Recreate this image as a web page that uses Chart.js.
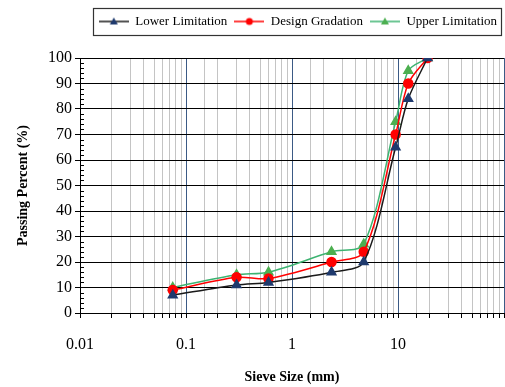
<!DOCTYPE html>
<html>
<head>
<meta charset="utf-8">
<script src="https://cdn.jsdelivr.net/npm/chart.js@4/dist/chart.umd.min.js"></script>
<style>
  html, body { margin: 0; padding: 0; background: #fff; }
  #wrap { width: 505px; height: 387px; }
</style>
</head>
<body>
<div id="wrap"><canvas id="gradChart"></canvas></div>
<script>
// Siebgrößen (mm) und Durchgangswerte (%)
const sieveSizes = [0.075, 0.3, 0.6, 2.36, 4.75, 9.5, 12.5, 19];
const lowerLimit = [7, 11, 12, 16, 20, 65, 84, 100];
const designGrad = [9, 14, 13.5, 20, 24, 70, 90, 100];
const upperLimit = [10, 15, 16, 24, 27, 75, 95, 100];

const seriesNames = ['Lower Limitation', 'Design Gradation', 'Upper Limitation'];
const xTickLabels = ['0.01', '0.1', '1', '10'];
const yTicks = [0, 10, 20, 30, 40, 50, 60, 70, 80, 90, 100];

const serif = "'Liberation Serif', 'DejaVu Serif', serif";

function toPoints(values) {
    return sieveSizes.map((s, i) => ({ x: s, y: values[i] }));
}

function isDecade(v) {
    const l = Math.log10(v);
    return Math.abs(l - Math.round(l)) < 1e-9;
}

// kleines Bild für die Legende: Linie mit Marker in der Mitte
function legendIcon(lineColor, fillColor, shape) {
    const c = document.createElement('canvas');
    c.width = 30; c.height = 12;
    const g = c.getContext('2d');
    g.strokeStyle = lineColor;
    g.lineWidth = 1.5;
    g.beginPath(); g.moveTo(0, 6); g.lineTo(30, 6); g.stroke();
    g.fillStyle = fillColor;
    g.beginPath();
    if (shape === 'circle') {
        g.arc(15, 6, 3.5, 0, Math.PI * 2);
    } else {
        g.moveTo(15, 2); g.lineTo(19, 9); g.lineTo(11, 9); g.closePath();
    }
    g.fill();
    return c;
}

const icons = [
    legendIcon('#1a1a1a', '#1F3A6E', 'triangle'),
    legendIcon('#ff0000', '#ff0000', 'circle'),
    legendIcon('#3cb371', '#4caf50', 'triangle')
];

const extras = {
    id: 'extras',
    afterInit(chart) {
        // Legende etwas höher machen, damit die Zeichenfläche bei y=57 beginnt
        const lg = chart.legend;
        const origFit = lg.fit;
        lg.fit = function () {
            origFit.call(this);
            this.height += 20;
        };
    },
    afterDraw(chart) {
        const ctx = chart.ctx;
        const y = chart.scales.y;
        // kleine Zwischenstriche an der y-Achse
        ctx.save();
        ctx.strokeStyle = '#000';
        ctx.lineWidth = 1;
        for (let v = 2; v < 100; v += 2) {
            if (v % 10 === 0) continue;
            const py = Math.round(y.getPixelForValue(v)) + 0.5;
            ctx.beginPath();
            ctx.moveTo(y.right, py);
            ctx.lineTo(y.right + 4, py);
            ctx.stroke();
        }
        // Rahmen um die Legende
        const hb = chart.legend.legendHitBoxes;
        if (hb && hb.length) {
            const left = Math.min(...hb.map(h => h.left)) - 6;
            const right = Math.max(...hb.map(h => h.left + h.width)) + 4;
            const top = hb[0].top - 7;
            const bottom = hb[0].top + hb[0].height + 7;
            ctx.strokeStyle = '#333';
            ctx.lineWidth = 1.2;
            ctx.strokeRect(Math.round(left) + 0.5, Math.round(top) + 0.5, Math.round(right - left), Math.round(bottom - top));
        }
        ctx.restore();
    }
};

new Chart(document.getElementById('gradChart'), {
    type: 'line',
    data: {
        datasets: [
            {
                label: seriesNames[0],
                data: toPoints(lowerLimit),
                borderColor: '#1a1a1a',
                borderWidth: 1.5,
                pointStyle: 'triangle',
                pointRadius: 5,
                pointBackgroundColor: '#1F3A6E',
                pointBorderColor: '#1F3A6E',
                tension: 0.3
            },
            {
                label: seriesNames[1],
                data: toPoints(designGrad),
                borderColor: '#ff0000',
                borderWidth: 1.5,
                pointStyle: 'circle',
                pointRadius: 4.5,
                pointBackgroundColor: '#ff0000',
                pointBorderColor: '#ff0000',
                tension: 0.3
            },
            {
                label: seriesNames[2],
                data: toPoints(upperLimit),
                borderColor: '#3cb371',
                borderWidth: 1.5,
                pointStyle: 'triangle',
                pointRadius: 5,
                pointBackgroundColor: '#4caf50',
                pointBorderColor: '#4caf50',
                tension: 0.3
            }
        ]
    },
    options: {
        responsive: true,
        maintainAspectRatio: false,
        animation: false,
        layout: { autoPadding: false, padding: { left: 0, right: 1, top: 8, bottom: 0 } },
        plugins: {
            tooltip: { enabled: false },
            legend: {
                position: 'top',
                align: 'end',
                labels: {
                    usePointStyle: true,
                    pointStyleWidth: 30,
                    padding: 7,
                    color: '#000',
                    font: { family: serif, size: 13 },
                    generateLabels(chart) {
                        const items = Chart.defaults.plugins.legend.labels.generateLabels(chart);
                        items.forEach((it, i) => { it.pointStyle = icons[i]; });
                        return items;
                    }
                }
            }
        },
        scales: {
            x: {
                type: 'logarithmic',
                min: 0.01,
                max: 100,
                afterFit(scale) {
                    scale.height = 74;
                    scale.paddingLeft = 0;
                    scale.paddingRight = 0;
                },
                border: { color: '#000', width: 1 },
                grid: {
                    color: ctx => (ctx.tick && isDecade(ctx.tick.value)) ? '#3b5a85' : '#c4c4c4',
                    tickColor: '#000',
                    tickLength: 5
                },
                ticks: {
                    autoSkip: false,
                    maxRotation: 0,
                    padding: 17,
                    color: '#000',
                    font: { family: serif, size: 16 },
                    callback(value) {
                        if (!isDecade(value)) return '';
                        const idx = Math.round(Math.log10(value)) + 2;
                        return xTickLabels[idx] !== undefined ? xTickLabels[idx] : '';
                    }
                },
                title: {
                    display: true,
                    text: 'Sieve Size (mm)',
                    color: '#000',
                    font: { family: serif, size: 14, weight: 'bold' },
                    padding: { top: 0, bottom: 1 }
                }
            },
            y: {
                min: 0,
                max: 100,
                afterFit(scale) { scale.width = 80; },
                afterBuildTicks(scale) { scale.ticks = yTicks.map(v => ({ value: v })); },
                border: { color: '#000', width: 1 },
                grid: { color: '#000', lineWidth: 1, tickLength: 5 },
                ticks: {
                    padding: 3,
                    color: '#000',
                    font: { family: serif, size: 16 }
                },
                title: {
                    display: true,
                    text: 'Passing Percent (%)',
                    color: '#000',
                    font: { family: serif, size: 14, weight: 'bold' },
                    padding: { top: 15, bottom: 0 }
                }
            }
        }
    },
    plugins: [extras]
});
</script>
</body>
</html>
